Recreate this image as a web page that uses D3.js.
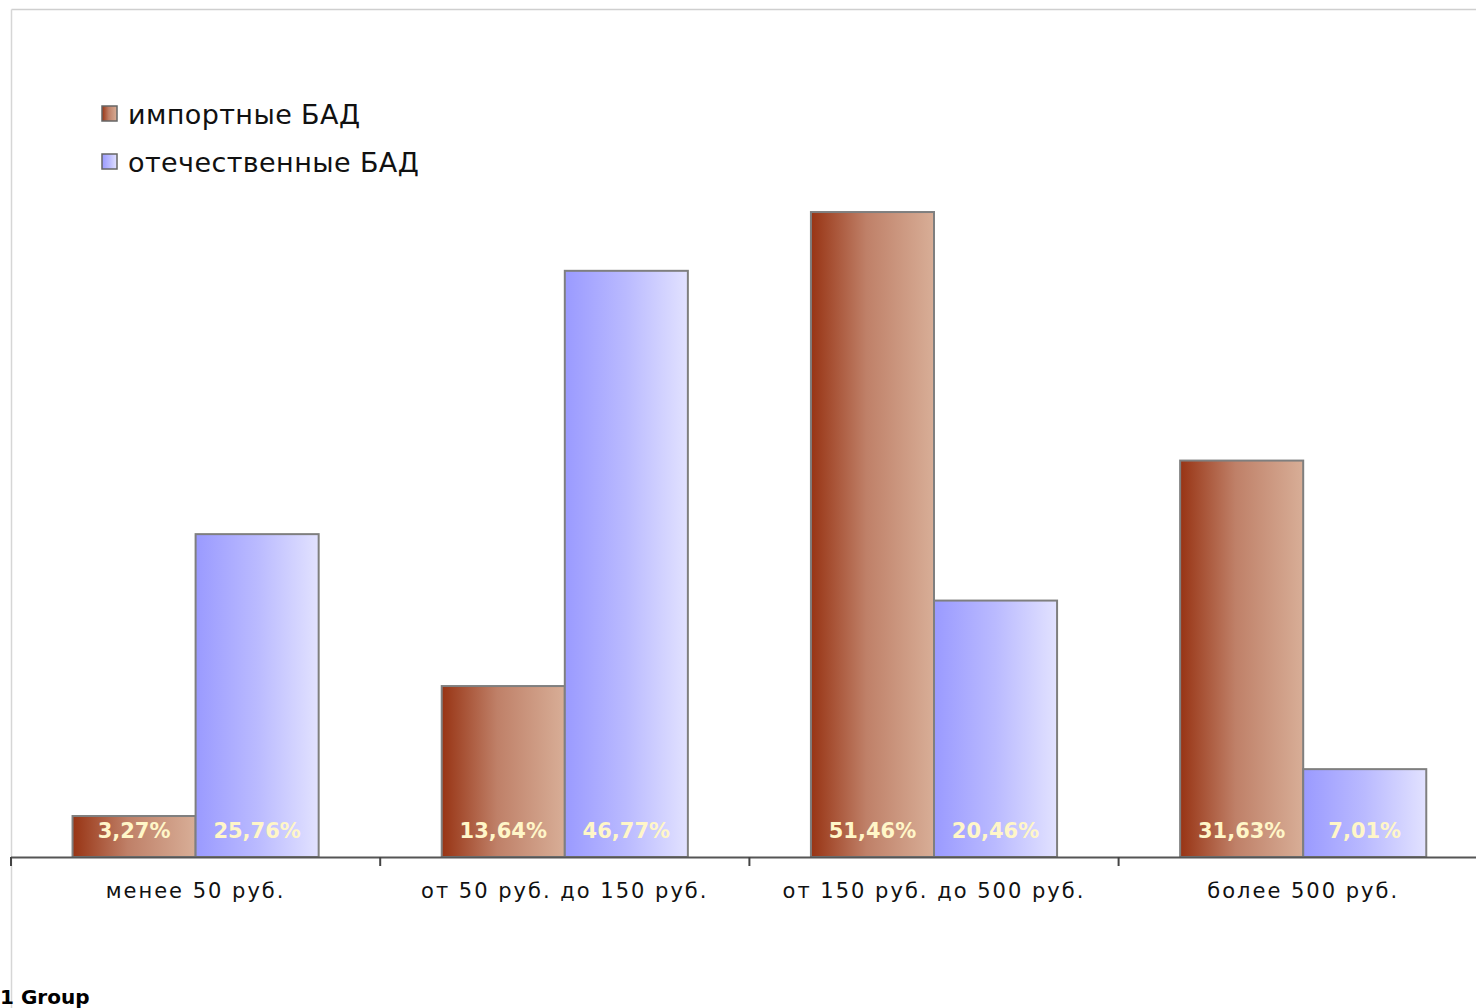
<!DOCTYPE html>
<html>
<head>
<meta charset="utf-8">
<script src="https://cdn.jsdelivr.net/npm/d3@7"></script>
<style>
  html, body { margin: 0; padding: 0; background: #fff; overflow: hidden; }
  svg { display: block; }
</style>
</head>
<body>
<svg id="chart" width="1476" height="1008"></svg>
<script>
const categories = ["менее 50 руб.", "от 50 руб. до 150 руб.", "от 150 руб. до 500 руб.", "более 500 руб."];
const seriesNames = ["импортные БАД", "отечественные БАД"];
const importValues = [3.27, 13.64, 51.46, 31.63];
const domesticValues = [25.76, 46.77, 20.46, 7.01];
const importLabels = ["3,27%", "13,64%", "51,46%", "31,63%"];
const domesticLabels = ["25,76%", "46,77%", "20,46%", "7,01%"];
const footerText = "1 Group";

const svg = d3.select("#chart");
const W = 1476, H = 1008;

const defs = svg.append("defs");
function grad(id, stops) {
  const g = defs.append("linearGradient").attr("id", id)
    .attr("x1", "0%").attr("x2", "100%").attr("y1", "0%").attr("y2", "0%");
  stops.forEach(s => g.append("stop").attr("offset", s[0]).attr("stop-color", s[1]));
}
grad("gImp", [["0%", "#983414"], ["45%", "#bf8068"], ["100%", "#d8ae97"]]);
grad("gDom", [["0%", "#9a9aff"], ["50%", "#babaff"], ["100%", "#e2e2ff"]]);
const fills = ["url(#gImp)", "url(#gDom)"];

// frame
svg.append("line").attr("x1", 11.5).attr("x2", W).attr("y1", 9.5).attr("y2", 9.5)
  .attr("stroke", "#cfcfcf").attr("stroke-width", 1.5);
svg.append("line").attr("x1", 11.5).attr("x2", 11.5).attr("y1", 9.5).attr("y2", H)
  .attr("stroke", "#d6d6d6").attr("stroke-width", 1.5);

const x0 = d3.scaleBand().domain(categories).range([11, 11 + 4 * 369.2]).paddingInner(0).paddingOuter(0);
const x1 = d3.scaleBand().domain(seriesNames).range([0, x0.bandwidth()]).paddingInner(0).paddingOuter(0.5);
const y = d3.scaleLinear().domain([0, 60]).range([857, 105]);

const data = categories.map((c, i) => ({
  cat: c,
  vals: [
    { s: seriesNames[0], v: importValues[i], lab: importLabels[i], k: 0 },
    { s: seriesNames[1], v: domesticValues[i], lab: domesticLabels[i], k: 1 }
  ]
}));

const groups = svg.append("g").selectAll("g").data(data).join("g")
  .attr("transform", d => `translate(${x0(d.cat)},0)`);

groups.selectAll("rect").data(d => d.vals).join("rect")
  .attr("x", d => x1(d.s))
  .attr("y", d => y(d.v))
  .attr("width", x1.bandwidth())
  .attr("height", d => y(0) - y(d.v))
  .attr("fill", d => fills[d.k])
  .attr("stroke", "#7f7f7f")
  .attr("stroke-width", 2);

groups.selectAll("text.val").data(d => d.vals).join("text")
  .attr("class", "val")
  .attr("x", d => x1(d.s) + x1.bandwidth() / 2)
  .attr("y", 838)
  .attr("text-anchor", "middle")
  .attr("font-family", "DejaVu Sans, Verdana, sans-serif")
  .attr("font-size", 21)
  .attr("font-weight", "bold")
  .attr("fill", "#fff6c8")
  .text(d => d.lab);

// axis line
svg.append("line").attr("x1", 11).attr("x2", W).attr("y1", 857.5).attr("y2", 857.5)
  .attr("stroke", "#555").attr("stroke-width", 2);
// boundary ticks
svg.append("g").selectAll("line").data(categories).join("line")
  .attr("x1", d => x0(d)).attr("x2", d => x0(d))
  .attr("y1", 857).attr("y2", 866)
  .attr("stroke", "#444").attr("stroke-width", 2);

// category labels
svg.append("g").selectAll("text").data(categories).join("text")
  .attr("x", d => x0(d) + x0.bandwidth() / 2)
  .attr("y", 898)
  .attr("text-anchor", "middle")
  .attr("font-family", "DejaVu Sans, Verdana, sans-serif")
  .attr("font-size", 21)
  .attr("letter-spacing", 2)
  .attr("fill", "#111")
  .text(d => d);

// legend
const leg = svg.append("g").selectAll("g").data(seriesNames).join("g")
  .attr("transform", (d, i) => `translate(102,${106 + i * 48})`);
leg.append("rect").attr("width", 15).attr("height", 15)
  .attr("fill", (d, i) => fills[i]).attr("stroke", "#666").attr("stroke-width", 1.5);
leg.append("text").attr("x", 26).attr("y", 18)
  .attr("font-family", "DejaVu Sans, Verdana, sans-serif")
  .attr("font-size", 27)
  .attr("letter-spacing", 0.4)
  .attr("fill", "#111")
  .text(d => d);

// footer
svg.append("text").attr("x", 0).attr("y", 1004)
  .attr("font-family", "DejaVu Sans, Verdana, sans-serif")
  .attr("font-size", 20).attr("font-weight", "bold")
  .attr("fill", "#000")
  .text(footerText);
</script>
</body>
</html>
